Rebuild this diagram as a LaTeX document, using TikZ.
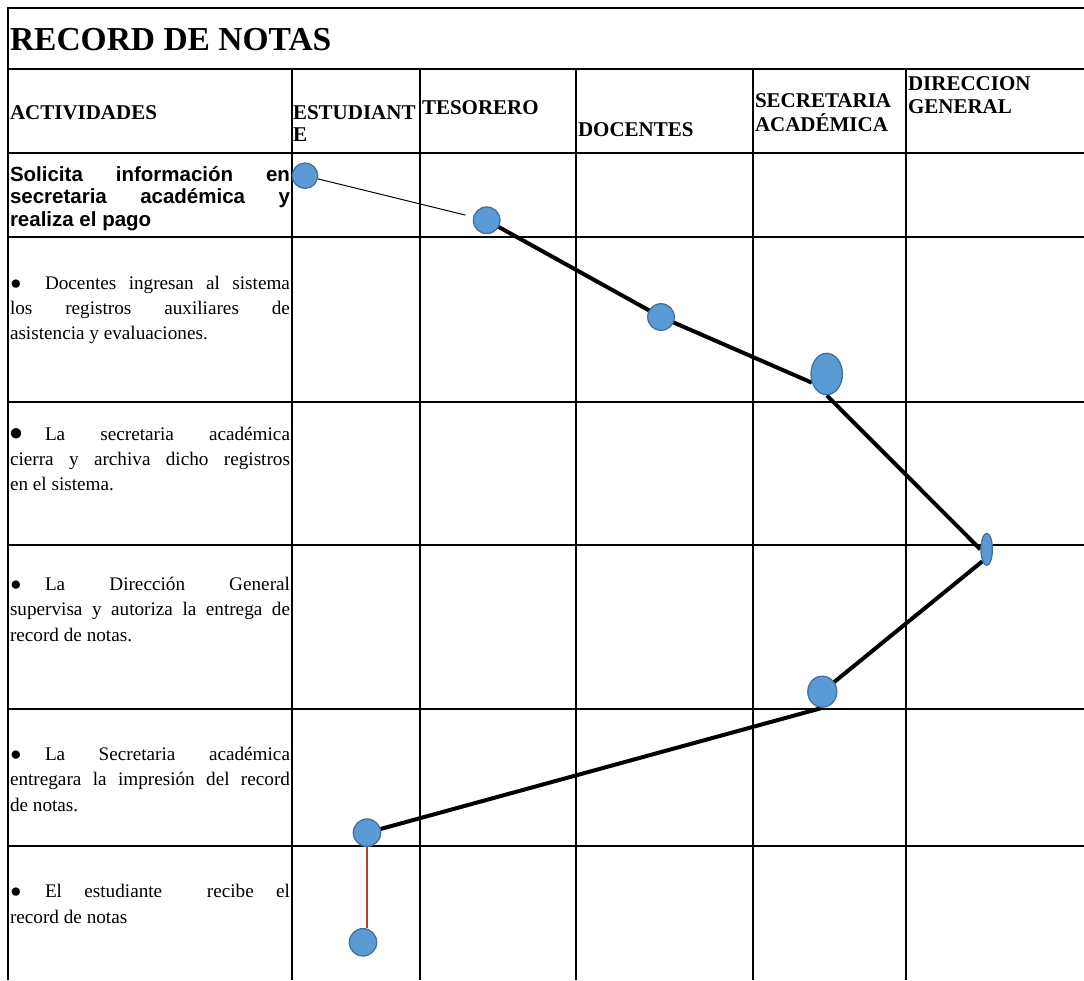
\documentclass[tikz,border=0pt]{standalone}
\usepackage{fontspec}
\setmainfont{Liberation Serif}
\newfontfamily\arialf{Liberation Sans}
\usetikzlibrary{backgrounds,shapes.geometric}
\definecolor{dotfill}{HTML}{5B9BD5}
\definecolor{dotedge}{HTML}{41719C}
\definecolor{redline}{RGB}{180,62,40}
\newcommand\bulsm{{\fontsize{19.2}{25}\selectfont ●}}
\newcommand\bulbg{{\fontsize{24}{25}\selectfont ●}}
\begin{document}
\begin{tikzpicture}[x=1pt,y=-1pt,
  grid/.style={line width=2.2pt},
  txt/.style={anchor=base west, inner sep=0pt, outer sep=0pt},
  hdr/.style={txt, font=\fontsize{21}{24}\selectfont\bfseries},
  rowone/.style={txt, font=\fontsize{20.5}{23}\selectfont\arialf\bfseries},
  body/.style={txt, font=\fontsize{19.2}{25}\selectfont},
  dot/.style={circle, fill=dotfill, draw=dotedge, line width=1.3pt, inner sep=0pt},
  flow/.style={line width=4pt, black},
  thinflow/.style={line width=1pt, black},
  redflow/.style={line width=1.2pt, redline}
]
\useasboundingbox (0,0) rectangle (1084,980);
% grid
\begin{scope}[on background layer]
\fill[white] (0,0) rectangle (1084,980);
\draw[grid] (8,980) -- (8,8) -- (1084,8);
\foreach \y in {69,153,237,402,545,709,846} \draw[grid] (8,\y) -- (1084,\y);
\foreach \x in {292,420,576,753,906} \draw[grid] (\x,69) -- (\x,980);
\end{scope}
% title and headers
\node[txt, font=\fontsize{33.5}{34}\selectfont\bfseries] (title) at (10,50) {RECORD DE NOTAS};
\node[hdr] (hact) at (10,119) {ACTIVIDADES};
\node[hdr] (hesta) at (293,119) {ESTUDIANT};
\node[hdr] (hestb) at (293,141.7) {E};
\node[hdr] (htes) at (422,114) {TESORERO};
\node[hdr] (hdoc) at (578,136.7) {DOCENTES};
\node[hdr] (hseca) at (755,107.3) {SECRETARIA};
\node[hdr] (hsecb) at (755,131.7) {ACADÉMICA};
\node[hdr] (hdira) at (908,90) {DIRECCION};
\node[hdr] (hdirb) at (908,113.3) {GENERAL};
% row 1
\node[rowone] (ra1) at (10,181) {\makebox[280pt][s]{Solicita información en}};
\node[rowone] (ra2) at (10,203.5) {\makebox[280pt][s]{secretaria académica y}};
\node[rowone] (ra3) at (10,226) {realiza el pago};
% row 2
\node[body] (rbb) at (10,289) {\bulsm};
\node[body] (rb1) at (45,289) {\makebox[245pt][s]{Docentes ingresan al sistema}};
\node[body] (rb2) at (10,314.5) {\makebox[280pt][s]{los registros auxiliares de}};
\node[body] (rb3) at (10,339.5) {asistencia y evaluaciones.};
% row 3
\node[body] (rcb) at (9,440) {\bulbg};
\node[body] (rc1) at (45,440) {\makebox[245pt][s]{La secretaria académica}};
\node[body] (rc2) at (10,465.5) {\makebox[280pt][s]{cierra y archiva dicho registros}};
\node[body] (rc3) at (10,490) {en el sistema.};
% row 4
\node[body] (rdb) at (10,590) {\bulsm};
\node[body] (rd1) at (45,590) {\makebox[245pt][s]{La Dirección General}};
\node[body] (rd2) at (10,615.5) {\makebox[280pt][s]{supervisa y autoriza la entrega de}};
\node[body] (rd3) at (10,641) {record de notas.};
% row 5
\node[body] (reb) at (10,760) {\bulsm};
\node[body] (re1) at (45,760) {\makebox[245pt][s]{La Secretaria académica}};
\node[body] (re2) at (10,785.5) {\makebox[280pt][s]{entregara la impresión del record}};
\node[body] (re3) at (10,811) {de notas.};
% row 6
\node[body] (rfb) at (10,897) {\bulsm};
\node[body] (rf1) at (45,897) {\makebox[245pt][s]{El estudiante\ \ recibe el}};
\node[body] (rf2) at (10,923) {record de notas};
% circles
\node[dot, minimum size=25.4pt] (c1) at (305,175.7) {};
\node[dot, minimum size=26.6pt] (c2) at (486.7,220.3) {};
\node[dot, minimum size=26.6pt] (c3) at (661,317) {};
\node[dot, ellipse, minimum width=31.4pt, minimum height=41.4pt] (c4) at (826.7,374) {};
\node[dot, ellipse, minimum width=11.4pt, minimum height=32pt] (c5) at (986.7,549.3) {};
\node[dot, ellipse, minimum width=29pt, minimum height=31pt] (c6) at (822.3,691.7) {};
\node[dot, minimum size=27.4pt] (c7) at (367,832.7) {};
\node[dot, minimum size=27.4pt] (c8) at (363,942.3) {};
% connectors
\begin{scope}[on background layer]
\draw[thinflow, shorten >=8pt] (c1) -- (c2);
\draw[flow] (c2.center) -- (c3.center);
\draw[flow] (c3.center) -- (c4.-150);
\draw[flow] (c4.south) -- (c5.west);
\draw[flow] (c5.-110) -- (c6.center);
\draw[flow] (c6.south) -- (c7.center);
\draw[redflow] (c7.south) -- (c7.south |- c8.north);
\end{scope}
\end{tikzpicture}
\end{document}
